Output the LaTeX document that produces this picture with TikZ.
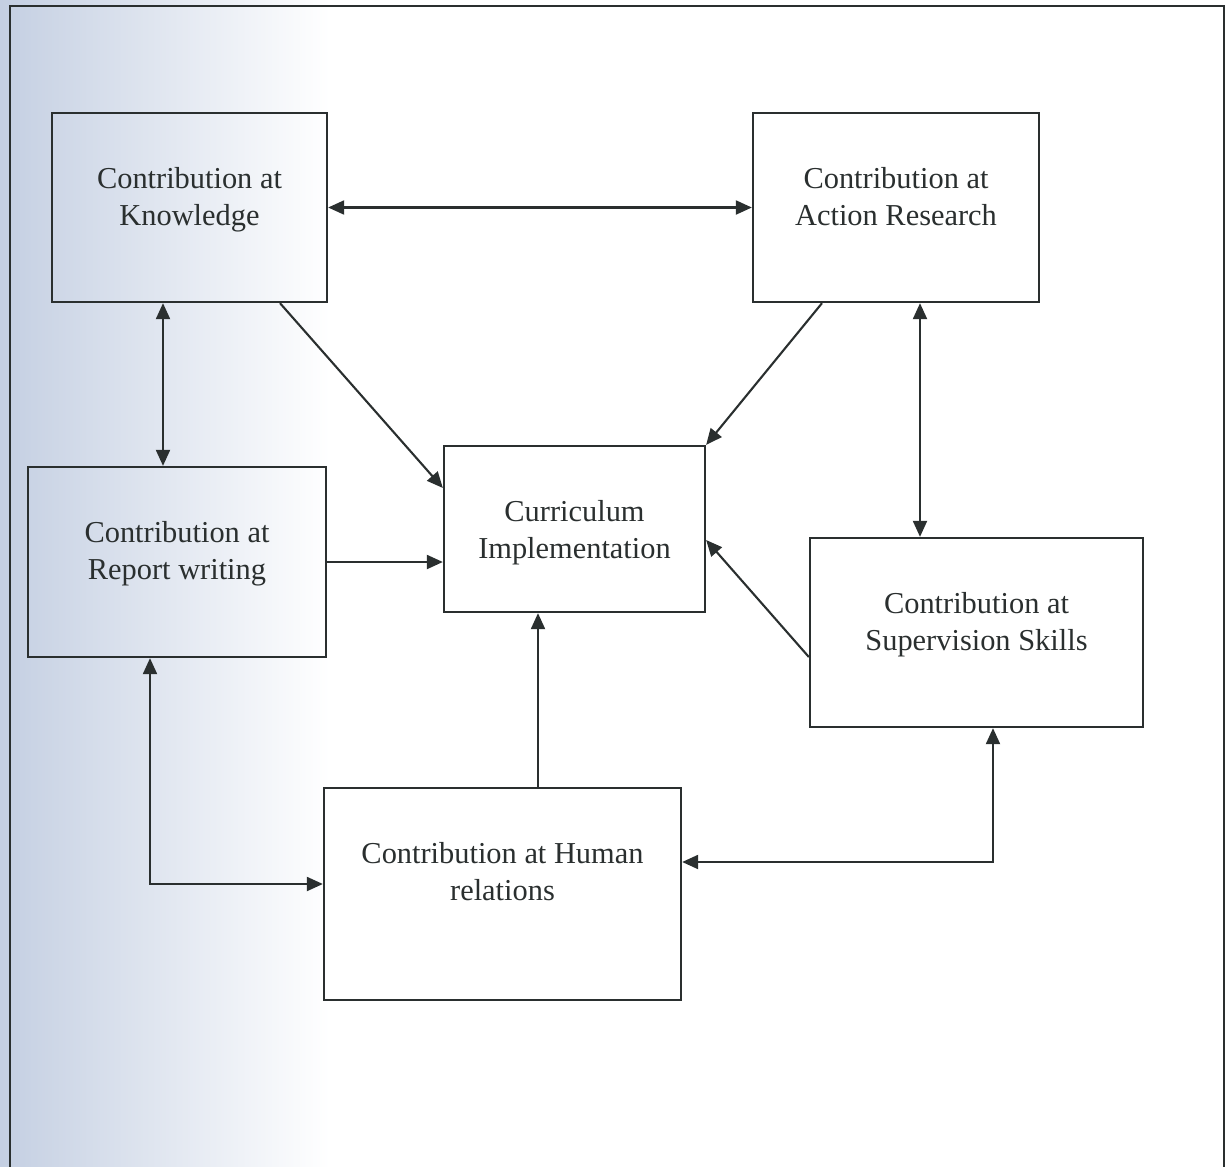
\documentclass[tikz,border=0pt]{standalone}
\usepackage{fontspec}
\setmainfont{Liberation Serif}
\usepackage{xcolor}
\definecolor{ink}{HTML}{2A2F2F}
\definecolor{scanblue}{HTML}{C4CFE2}
\usepackage{tikz}
\usetikzlibrary{arrows.meta}

\begin{document}
\begin{tikzpicture}[x=1bp, y=-1bp, font=\fontsize{30.4bp}{37bp}\selectfont,
  box/.style 2 args={draw=ink, line width=2.3bp, minimum width=#1, minimum height=#2, inner sep=0pt},
  txt/.style={anchor=north, yshift=-55bp, align=center, inner sep=0pt, text=ink},
  arr/.style={-{Triangle[length=16bp, width=14bp]}, line width=2.1bp, draw=ink},
  both/.style={{Triangle[length=16bp, width=14bp]}-{Triangle[length=16bp, width=14bp]}, line width=2.1bp, draw=ink}]
  \useasboundingbox (0,0) rectangle (1231,1167);
  \clip (0,0) rectangle (1231,1167);
  \shade[left color=scanblue, right color=white] (0,0) rectangle (330,1167);
  \draw[ink, line width=2.3bp] (10,6) rectangle (1224,1200);
  % boxes
  \node[box={275bp}{189bp}, label={[txt]north:Contribution at\\Knowledge}] (know) at (189.5,207.5) {};
  \node[box={286bp}{189bp}, label={[txt]north:Contribution at\\Action Research}] (act) at (896,207.5) {};
  \node[box={298bp}{190bp}, label={[txt]north:Contribution at\\Report writing}] (rep) at (177,562) {};
  \node[box={261bp}{166bp}, label={[txt]north:Curriculum\\Implementation}] (cur) at (574.5,529) {};
  \node[box={333bp}{189bp}, label={[txt]north:Contribution at\\Supervision Skills}] (sup) at (976.5,632.5) {};
  \node[box={357bp}{212bp}, label={[txt]north:Contribution at Human\\relations}] (hum) at (502.5,894) {};
  % links
  \draw[both] (know) -- (act);
  \draw[both] ([xshift=-26.5bp]know.south) -- ([xshift=-26.5bp]know.south |- rep.north);
  \draw[both] ([xshift=24bp]act.south) -- ([xshift=24bp]act.south |- sup.north);
  \draw[both] ([xshift=-27bp]rep.south) |- ([yshift=10bp]hum.west);
  \draw[both] ([xshift=16.5bp]sup.south) |- ([yshift=32bp]hum.east);
  \draw[arr] ([xshift=90.5bp]know.south) -- ([yshift=41bp]cur.west);
  \draw[arr] ([xshift=-74bp]act.south) -- (cur.north east);
  \draw[arr] (rep.east) -- (rep.east -| cur.west);
  \draw[arr] ([yshift=-24.5bp]sup.west) -- ([yshift=-11bp]cur.east);
  \draw[arr] ([xshift=35.5bp]hum.north) -- ([xshift=35.5bp]hum.north |- cur.south);
\end{tikzpicture}
\end{document}
